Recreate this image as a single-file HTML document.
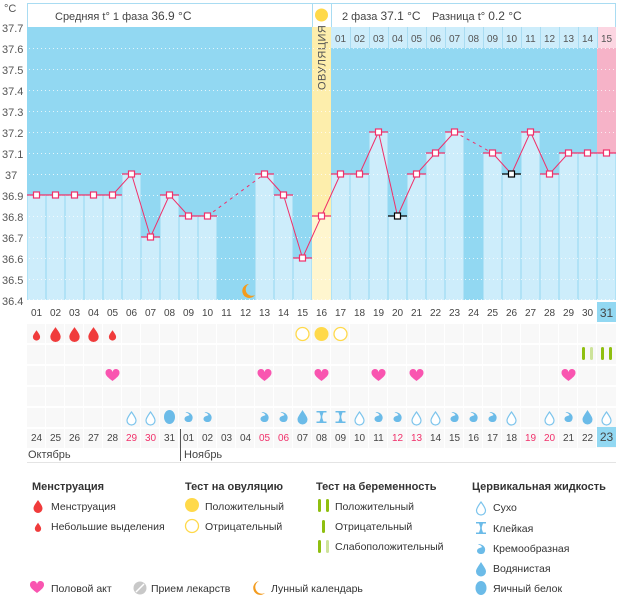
<!DOCTYPE html>
<html><head><meta charset="utf-8"><style>
html,body{margin:0;padding:0;background:#fff;width:626px;height:595px;overflow:hidden}
svg{display:block;font-family:"Liberation Sans",sans-serif}
</style></head><body>
<svg width="626" height="595" viewBox="0 0 626 595" xmlns="http://www.w3.org/2000/svg">
<defs>
<path id="drop" d="M0,-6 C2.5,-2.5 4.5,0 4.5,2.5 A4.5,4.5 0 0 1 -4.5,2.5 C-4.5,0 -2.5,-2.5 0,-6Z"/>
<path id="heart" d="M0,5 C-4,2 -7,-0.5 -7,-3 A3.5,3.5 0 0 1 0,-4 A3.5,3.5 0 0 1 7,-3 C7,-0.5 4,2 0,5Z"/>
<g id="dry"><path d="M0,-6 C2.5,-2.5 4.5,0 4.5,2.5 A4.5,4.5 0 0 1 -4.5,2.5 C-4.5,0 -2.5,-2.5 0,-6Z" fill="#fff" stroke="#7cc4ec" stroke-width="1.2"/></g>
<g id="cream"><path d="M-3,-5 C3,-5 6,0 3,4 C1,6 -4,5 -4,2 C-4,-1 0,-1 1,-2 C0,-4 -2,-4 -3,-5Z" fill="#6bbbe8"/></g>
<g id="water"><path d="M0,-7 C2.5,-3 5,0 5,2.5 A5,5 0 0 1 -5,2.5 C-5,0 -2.5,-3 0,-7Z" fill="#6bbbe8"/></g>
<g id="sticky"><path d="M-5,-6 H5 V-4.5 H2 L0.8,-1 V1 L2,4.5 H5 V6 H-5 V4.5 H-2 L-0.8,1 V-1 L-2,-4.5 H-5Z" fill="#6bbbe8"/></g>
<g id="egg"><ellipse cx="0" cy="0" rx="5.5" ry="7" fill="#6bbbe8"/></g>
</defs>

<g font-size="11" fill="#555">
<text x="4" y="12">°C</text>
<text x="2" y="32">37.7</text><text x="2" y="53">37.6</text><text x="2" y="74">37.5</text><text x="2" y="95">37.4</text>
<text x="2" y="116">37.3</text><text x="2" y="137">37.2</text><text x="2" y="158">37.1</text><text x="5" y="179">37</text>
<text x="2" y="200">36.9</text><text x="2" y="221">36.8</text><text x="2" y="242">36.7</text><text x="2" y="263">36.6</text>
<text x="2" y="284">36.5</text><text x="2" y="305">36.4</text>
</g>

<rect x="27.5" y="3.5" width="588" height="24" fill="#fff" stroke="#a9dcf2"/>
<text x="55" y="20" font-size="11" fill="#444">Средняя t° 1 фаза <tspan font-size="12">36.9 °C</tspan></text>
<text x="342" y="20" font-size="11" fill="#444">2 фаза <tspan font-size="12">37.1 °C</tspan></text>
<text x="432" y="20" font-size="11" fill="#444">Разница t° <tspan font-size="12">0.2 °C</tspan></text>
<line x1="331.5" y1="4" x2="331.5" y2="27" stroke="#a9dcf2"/>
<line x1="312.5" y1="4" x2="312.5" y2="27" stroke="#a9dcf2"/>
<circle cx="321.5" cy="15" r="6.5" fill="#ffd94a"/>

<rect x="27" y="27" width="589" height="273" fill="#92d8f2"/>
<rect x="312" y="27" width="19" height="273" fill="#fdeeac"/>
<rect x="312" y="216" width="19" height="84" fill="#fff6cf"/>
<text transform="translate(325.5,90) rotate(-90)" font-size="11" fill="#555" letter-spacing="0.5">ОВУЛЯЦИЯ</text>

<rect x="331" y="27" width="285" height="21" fill="#cdedfb"/>
<rect x="597" y="27" width="19" height="21" fill="#fcd6e2"/>
<rect x="597" y="48" width="19" height="105" fill="#f6b3c8"/>
<g stroke="#a9dcf2" stroke-width="1">
<line x1="350.5" y1="27" x2="350.5" y2="48"/><line x1="369.5" y1="27" x2="369.5" y2="48"/><line x1="388.5" y1="27" x2="388.5" y2="48"/>
<line x1="407.5" y1="27" x2="407.5" y2="48"/><line x1="426.5" y1="27" x2="426.5" y2="48"/><line x1="445.5" y1="27" x2="445.5" y2="48"/>
<line x1="464.5" y1="27" x2="464.5" y2="48"/><line x1="483.5" y1="27" x2="483.5" y2="48"/><line x1="502.5" y1="27" x2="502.5" y2="48"/>
<line x1="521.5" y1="27" x2="521.5" y2="48"/><line x1="540.5" y1="27" x2="540.5" y2="48"/><line x1="559.5" y1="27" x2="559.5" y2="48"/>
<line x1="578.5" y1="27" x2="578.5" y2="48"/><line x1="597.5" y1="27" x2="597.5" y2="48"/>
</g>
<g font-size="10" fill="#555" text-anchor="middle">
<text x="340.5" y="42">01</text><text x="359.5" y="42">02</text><text x="378.5" y="42">03</text><text x="397.5" y="42">04</text>
<text x="416.5" y="42">05</text><text x="435.5" y="42">06</text><text x="454.5" y="42">07</text><text x="473.5" y="42">08</text>
<text x="492.5" y="42">09</text><text x="511.5" y="42">10</text><text x="530.5" y="42">11</text><text x="549.5" y="42">12</text>
<text x="568.5" y="42">13</text><text x="587.5" y="42">14</text><text x="606.5" y="42">15</text>
</g>

<g fill="#cdedfb">
<rect x="27.5" y="195" width="18" height="105"/><rect x="46.5" y="195" width="18" height="105"/><rect x="65.5" y="195" width="18" height="105"/>
<rect x="84.5" y="195" width="18" height="105"/><rect x="103.5" y="195" width="18" height="105"/><rect x="122.5" y="174" width="18" height="126"/>
<rect x="141.5" y="237" width="18" height="63"/><rect x="160.5" y="195" width="18" height="105"/><rect x="179.5" y="216" width="18" height="84"/>
<rect x="198.5" y="216" width="18" height="84"/>
<rect x="255.5" y="174" width="18" height="126"/><rect x="274.5" y="195" width="18" height="105"/><rect x="293.5" y="258" width="18" height="42"/>
<rect x="331.5" y="174" width="18" height="126"/><rect x="350.5" y="174" width="18" height="126"/><rect x="369.5" y="132" width="18" height="168"/>
<rect x="388.5" y="216" width="18" height="84"/><rect x="407.5" y="174" width="18" height="126"/><rect x="426.5" y="153" width="18" height="147"/>
<rect x="445.5" y="132" width="18" height="168"/>
<rect x="483.5" y="153" width="18" height="147"/><rect x="502.5" y="174" width="18" height="126"/><rect x="521.5" y="132" width="18" height="168"/>
<rect x="540.5" y="174" width="18" height="126"/><rect x="559.5" y="153" width="18" height="147"/><rect x="578.5" y="153" width="18" height="147"/>
<rect x="597.5" y="153" width="18" height="147"/>
</g>

<g stroke="#fff" stroke-width="1" stroke-dasharray="1,3" opacity="0.75">
<line x1="29" y1="48.5" x2="616" y2="48.5"/><line x1="29" y1="69.5" x2="616" y2="69.5"/><line x1="29" y1="90.5" x2="616" y2="90.5"/>
<line x1="29" y1="111.5" x2="616" y2="111.5"/><line x1="29" y1="132.5" x2="616" y2="132.5"/><line x1="29" y1="153.5" x2="616" y2="153.5"/>
<line x1="29" y1="174.5" x2="616" y2="174.5"/><line x1="29" y1="195.5" x2="616" y2="195.5"/><line x1="29" y1="216.5" x2="616" y2="216.5"/>
<line x1="29" y1="237.5" x2="616" y2="237.5"/><line x1="29" y1="258.5" x2="616" y2="258.5"/><line x1="29" y1="279.5" x2="616" y2="279.5"/>
<line x1="29" y1="299.5" x2="616" y2="299.5"/>
</g>

<path d="M249,284 A7,7 0 1 0 255,295 A6,6 0 0 1 249,284Z" fill="#f39c1f"/>

<g stroke="#f0306a" stroke-width="1.3">
<line x1="27" y1="195" x2="122" y2="195"/><line x1="122" y1="174" x2="141" y2="174"/><line x1="141" y1="237" x2="160" y2="237"/>
<line x1="160" y1="195" x2="179" y2="195"/><line x1="179" y1="216" x2="217" y2="216"/><line x1="255" y1="174" x2="274" y2="174"/>
<line x1="274" y1="195" x2="293" y2="195"/><line x1="293" y1="258" x2="312" y2="258"/><line x1="312" y1="216" x2="331" y2="216"/>
<line x1="331" y1="174" x2="369" y2="174"/><line x1="369" y1="132" x2="388" y2="132"/><line x1="407" y1="174" x2="426" y2="174"/>
<line x1="426" y1="153" x2="445" y2="153"/><line x1="445" y1="132" x2="464" y2="132"/><line x1="483" y1="153" x2="502" y2="153"/>
<line x1="521" y1="132" x2="540" y2="132"/><line x1="540" y1="174" x2="559" y2="174"/><line x1="559" y1="153" x2="616" y2="153"/>
</g>
<g stroke="#000" stroke-width="1.3"><line x1="388" y1="216" x2="407" y2="216"/><line x1="502" y1="174" x2="521" y2="174"/></g>

<polyline fill="none" stroke="#f0306a" stroke-width="1" points="36.5,195 55.5,195 74.5,195 93.5,195 112.5,195 131.5,174 150.5,237 169.5,195 188.5,216 207.5,216"/>
<polyline fill="none" stroke="#f0306a" stroke-width="1" points="264.5,174 283.5,195 302.5,258 321.5,216 340.5,174 359.5,174 378.5,132 397.5,216 416.5,174 435.5,153 454.5,132"/>
<polyline fill="none" stroke="#f0306a" stroke-width="1" points="492.5,153 511.5,174 530.5,132 549.5,174 568.5,153 587.5,153 606.5,153"/>
<g stroke="#f0306a" stroke-width="1" stroke-dasharray="3,4">
<line x1="207.5" y1="216" x2="264.5" y2="174"/><line x1="454.5" y1="132" x2="492.5" y2="153"/>
</g>
<g fill="#fff" stroke="#f0306a" stroke-width="1.2">
<rect x="33.5" y="192" width="6" height="6"/><rect x="52.5" y="192" width="6" height="6"/><rect x="71.5" y="192" width="6" height="6"/>
<rect x="90.5" y="192" width="6" height="6"/><rect x="109.5" y="192" width="6" height="6"/><rect x="128.5" y="171" width="6" height="6"/>
<rect x="147.5" y="234" width="6" height="6"/><rect x="166.5" y="192" width="6" height="6"/><rect x="185.5" y="213" width="6" height="6"/>
<rect x="204.5" y="213" width="6" height="6"/><rect x="261.5" y="171" width="6" height="6"/><rect x="280.5" y="192" width="6" height="6"/>
<rect x="299.5" y="255" width="6" height="6"/><rect x="318.5" y="213" width="6" height="6"/><rect x="337.5" y="171" width="6" height="6"/>
<rect x="356.5" y="171" width="6" height="6"/><rect x="375.5" y="129" width="6" height="6"/><rect x="413.5" y="171" width="6" height="6"/>
<rect x="432.5" y="150" width="6" height="6"/><rect x="451.5" y="129" width="6" height="6"/><rect x="489.5" y="150" width="6" height="6"/>
<rect x="527.5" y="129" width="6" height="6"/><rect x="546.5" y="171" width="6" height="6"/><rect x="565.5" y="150" width="6" height="6"/>
<rect x="584.5" y="150" width="6" height="6"/><rect x="603.5" y="150" width="6" height="6"/>
</g>
<g fill="#fff" stroke="#000" stroke-width="1.2"><rect x="394.5" y="213" width="6" height="6"/><rect x="508.5" y="171" width="6" height="6"/></g>

<rect x="597" y="302" width="19" height="20" fill="#92d8f2"/>
<g font-size="10" fill="#444" text-anchor="middle">
<text x="36.5" y="316">01</text><text x="55.5" y="316">02</text><text x="74.5" y="316">03</text><text x="93.5" y="316">04</text><text x="112.5" y="316">05</text>
<text x="131.5" y="316">06</text><text x="150.5" y="316">07</text><text x="169.5" y="316">08</text><text x="188.5" y="316">09</text><text x="207.5" y="316">10</text>
<text x="226.5" y="316">11</text><text x="245.5" y="316">12</text><text x="264.5" y="316">13</text><text x="283.5" y="316">14</text><text x="302.5" y="316">15</text>
<text x="321.5" y="316">16</text><text x="340.5" y="316">17</text><text x="359.5" y="316">18</text><text x="378.5" y="316">19</text><text x="397.5" y="316">20</text>
<text x="416.5" y="316">21</text><text x="435.5" y="316">22</text><text x="454.5" y="316">23</text><text x="473.5" y="316">24</text><text x="492.5" y="316">25</text>
<text x="511.5" y="316">26</text><text x="530.5" y="316">27</text><text x="549.5" y="316">28</text><text x="568.5" y="316">29</text><text x="587.5" y="316">30</text>
<text x="606.5" y="317" font-size="12">31</text>
</g>

<g fill="#f8f8f8">
<rect x="27" y="324" width="589" height="19"/><rect x="27" y="345" width="589" height="19"/><rect x="27" y="366" width="589" height="19"/>
<rect x="27" y="387" width="589" height="19"/><rect x="27" y="408" width="589" height="19"/><rect x="27" y="429" width="589" height="19"/>
</g>
<g stroke="#fff" stroke-width="1">
<line x1="45.5" y1="324" x2="45.5" y2="448"/><line x1="64.5" y1="324" x2="64.5" y2="448"/><line x1="83.5" y1="324" x2="83.5" y2="448"/><line x1="102.5" y1="324" x2="102.5" y2="448"/>
<line x1="121.5" y1="324" x2="121.5" y2="448"/><line x1="140.5" y1="324" x2="140.5" y2="448"/><line x1="159.5" y1="324" x2="159.5" y2="448"/><line x1="178.5" y1="324" x2="178.5" y2="448"/>
<line x1="197.5" y1="324" x2="197.5" y2="448"/><line x1="216.5" y1="324" x2="216.5" y2="448"/><line x1="235.5" y1="324" x2="235.5" y2="448"/><line x1="254.5" y1="324" x2="254.5" y2="448"/>
<line x1="273.5" y1="324" x2="273.5" y2="448"/><line x1="292.5" y1="324" x2="292.5" y2="448"/><line x1="311.5" y1="324" x2="311.5" y2="448"/><line x1="330.5" y1="324" x2="330.5" y2="448"/>
<line x1="349.5" y1="324" x2="349.5" y2="448"/><line x1="368.5" y1="324" x2="368.5" y2="448"/><line x1="387.5" y1="324" x2="387.5" y2="448"/><line x1="406.5" y1="324" x2="406.5" y2="448"/>
<line x1="425.5" y1="324" x2="425.5" y2="448"/><line x1="444.5" y1="324" x2="444.5" y2="448"/><line x1="463.5" y1="324" x2="463.5" y2="448"/><line x1="482.5" y1="324" x2="482.5" y2="448"/>
<line x1="501.5" y1="324" x2="501.5" y2="448"/><line x1="520.5" y1="324" x2="520.5" y2="448"/><line x1="539.5" y1="324" x2="539.5" y2="448"/><line x1="558.5" y1="324" x2="558.5" y2="448"/>
<line x1="577.5" y1="324" x2="577.5" y2="448"/><line x1="596.5" y1="324" x2="596.5" y2="448"/>
</g>

<g fill="#f03b3b">
<use href="#drop" transform="translate(36.5,335) scale(0.8)"/>
<use href="#drop" transform="translate(55.5,334) scale(1.15)"/>
<use href="#drop" transform="translate(74.5,334) scale(1.15)"/>
<use href="#drop" transform="translate(93.5,334) scale(1.15)"/>
<use href="#drop" transform="translate(112.5,335) scale(0.8)"/>
</g>
<circle cx="302.5" cy="334" r="6.5" fill="#fff" stroke="#ffd94a" stroke-width="1.3"/>
<circle cx="321.5" cy="334" r="7" fill="#ffd94a"/>
<circle cx="340.5" cy="334" r="6.5" fill="#fff" stroke="#ffd94a" stroke-width="1.3"/>
<rect x="582" y="347" width="3" height="13" rx="1.5" fill="#8fbf10"/>
<rect x="590" y="347" width="3" height="13" rx="1.5" fill="#cde39a"/>
<rect x="601" y="347" width="3" height="13" rx="1.5" fill="#8fbf10"/>
<rect x="609" y="347" width="3" height="13" rx="1.5" fill="#8fbf10"/>
<g fill="#f955b0">
<use href="#heart" transform="translate(112.5,376)"/><use href="#heart" transform="translate(264.5,376)"/>
<use href="#heart" transform="translate(321.5,376)"/><use href="#heart" transform="translate(378.5,376)"/>
<use href="#heart" transform="translate(416.5,376)"/><use href="#heart" transform="translate(568.5,376)"/>
</g>
<use href="#dry" x="131.5" y="418"/><use href="#dry" x="150.5" y="418"/><use href="#egg" x="169.5" y="417"/>
<use href="#cream" x="188.5" y="417"/><use href="#cream" x="207.5" y="417"/>
<use href="#cream" x="264.5" y="417"/><use href="#cream" x="283.5" y="417"/><use href="#water" x="302.5" y="417"/>
<use href="#sticky" x="321.5" y="417"/><use href="#sticky" x="340.5" y="417"/><use href="#dry" x="359.5" y="418"/>
<use href="#cream" x="378.5" y="417"/><use href="#cream" x="397.5" y="417"/><use href="#dry" x="416.5" y="418"/>
<use href="#dry" x="435.5" y="418"/><use href="#cream" x="454.5" y="417"/><use href="#cream" x="473.5" y="417"/>
<use href="#cream" x="492.5" y="417"/><use href="#dry" x="511.5" y="418"/><use href="#dry" x="549.5" y="418"/>
<use href="#cream" x="568.5" y="417"/><use href="#water" x="587.5" y="417"/><use href="#dry" x="606.5" y="418"/>

<rect x="597" y="427" width="19" height="20" fill="#92d8f2"/>
<g font-size="10" fill="#444" text-anchor="middle">
<text x="36.5" y="441">24</text><text x="55.5" y="441">25</text><text x="74.5" y="441">26</text><text x="93.5" y="441">27</text><text x="112.5" y="441">28</text>
<text x="131.5" y="441" fill="#f0306a">29</text><text x="150.5" y="441" fill="#f0306a">30</text><text x="169.5" y="441">31</text><text x="188.5" y="441">01</text><text x="207.5" y="441">02</text>
<text x="226.5" y="441">03</text><text x="245.5" y="441">04</text><text x="264.5" y="441" fill="#f0306a">05</text><text x="283.5" y="441" fill="#f0306a">06</text><text x="302.5" y="441">07</text>
<text x="321.5" y="441">08</text><text x="340.5" y="441">09</text><text x="359.5" y="441">10</text><text x="378.5" y="441">11</text><text x="397.5" y="441" fill="#f0306a">12</text>
<text x="416.5" y="441" fill="#f0306a">13</text><text x="435.5" y="441">14</text><text x="454.5" y="441">15</text><text x="473.5" y="441">16</text><text x="492.5" y="441">17</text>
<text x="511.5" y="441">18</text><text x="530.5" y="441" fill="#f0306a">19</text><text x="549.5" y="441" fill="#f0306a">20</text><text x="568.5" y="441">21</text><text x="587.5" y="441">22</text>
<text x="606.5" y="441" font-size="12">23</text>
</g>
<line x1="180.5" y1="429" x2="180.5" y2="461" stroke="#555"/>
<text x="28" y="458" font-size="11" fill="#444">Октябрь</text>
<text x="184" y="458" font-size="11" fill="#444">Ноябрь</text>
<line x1="27" y1="462.5" x2="616" y2="462.5" stroke="#e4e4e4"/>

<g font-size="11" fill="#333" font-weight="bold">
<text x="32" y="490">Менструация</text><text x="185" y="490">Тест на овуляцию</text>
<text x="316" y="490">Тест на беременность</text><text x="472" y="490">Цервикальная жидкость</text>
</g>
<g font-size="10.5" fill="#333">
<use href="#drop" transform="translate(38,506) scale(1)" fill="#f03b3b"/><text x="51" y="510">Менструация</text>
<use href="#drop" transform="translate(38,527) scale(0.7)" fill="#f03b3b"/><text x="51" y="530">Небольшие выделения</text>
<circle cx="192" cy="505" r="7" fill="#ffd94a"/><text x="205" y="510">Положительный</text>
<circle cx="192" cy="526" r="6.5" fill="#fff" stroke="#ffd94a" stroke-width="1.3"/><text x="205" y="530">Отрицательный</text>
<rect x="318" y="499" width="3" height="13" rx="1.5" fill="#8fbf10"/><rect x="326" y="499" width="3" height="13" rx="1.5" fill="#8fbf10"/><text x="335" y="510">Положительный</text>
<rect x="322" y="520" width="3" height="13" rx="1.5" fill="#8fbf10"/><text x="335" y="530">Отрицательный</text>
<rect x="318" y="540" width="3" height="13" rx="1.5" fill="#8fbf10"/><rect x="326" y="540" width="3" height="13" rx="1.5" fill="#cde39a"/><text x="335" y="550">Слабоположительный</text>
<use href="#dry" x="481" y="508"/><text x="493" y="511">Сухо</text>
<use href="#sticky" x="481" y="528"/><text x="493" y="532">Клейкая</text>
<use href="#cream" x="481" y="549"/><text x="493" y="552">Кремообразная</text>
<use href="#water" x="481" y="569"/><text x="493" y="572">Водянистая</text>
<use href="#egg" x="481" y="588"/><text x="493" y="592">Яичный белок</text>
<use href="#heart" transform="translate(37,588)" fill="#f955b0"/><text x="51" y="592">Половой акт</text>
<circle cx="140" cy="588" r="6.5" fill="#c8c8c8"/><line x1="136" y1="592" x2="144" y2="584" stroke="#fff" stroke-width="1.5"/><text x="151" y="592">Прием лекарств</text>
<path d="M259,581 A7,7 0 1 0 265,593 A6,6 0 0 1 259,581Z" fill="#f39c1f"/><text x="271" y="592">Лунный календарь</text>
</g>
</svg>
</body></html>
